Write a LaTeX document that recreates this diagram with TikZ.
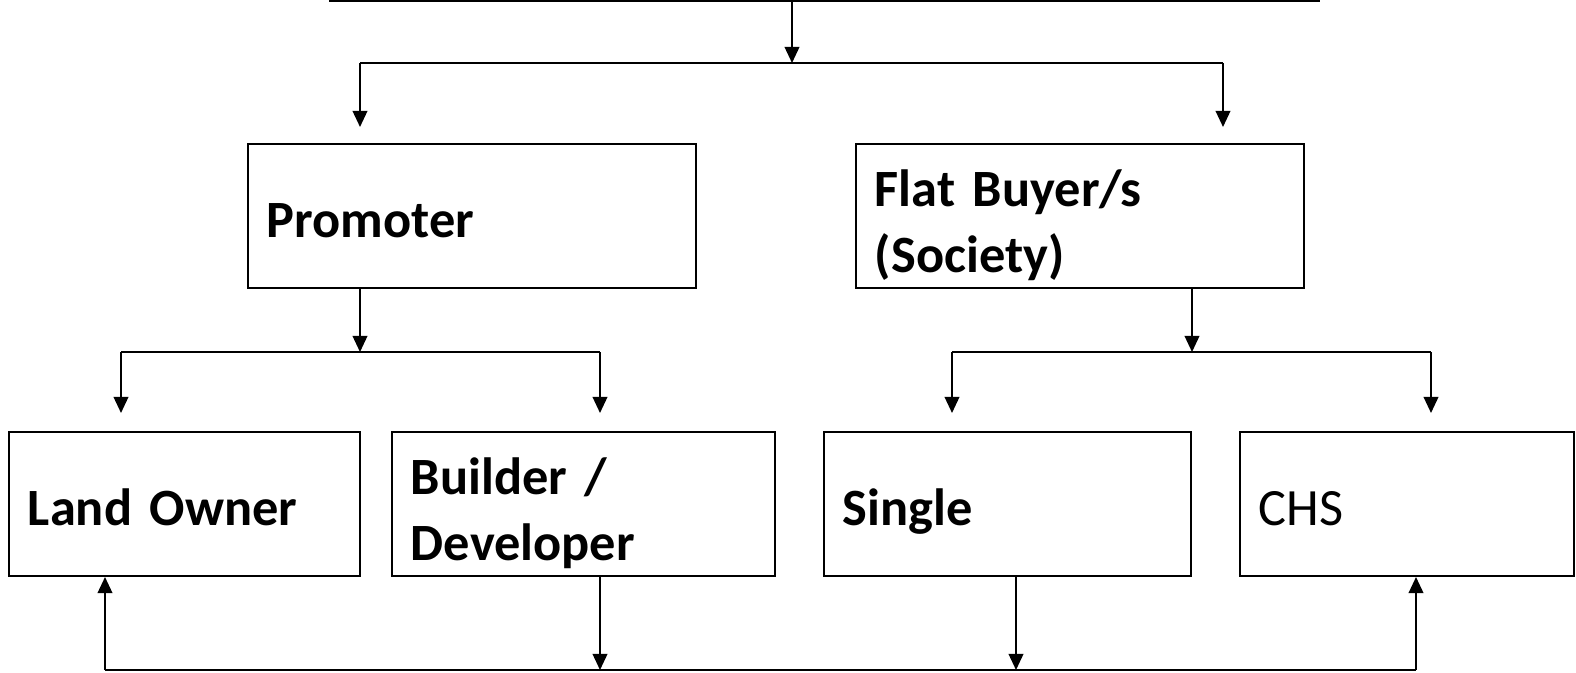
\documentclass[tikz,border=0pt]{standalone}
\usepackage{fontspec}
\setmainfont{Carlito}
\usetikzlibrary{calc}
\usetikzlibrary{arrows.meta}

\begin{document}
\begin{tikzpicture}[x=0.01cm, y=-0.01cm, >={Triangle[length=4.6pt,width=4.2pt]}]
\tikzstyle{box}=[draw=black, line width=0.55pt, rectangle, minimum height=1.44cm, inner xsep=0.19cm, align=left, font=\fontsize{14.9}{18.8}\selectfont\bfseries, execute at end node={\endgraf\vspace*{-0.18cm}}]
\tikzstyle{oneline}=[text height=12pt, text depth=0pt]
\tikzstyle{link}=[line width=0.5pt]
\useasboundingbox (0,0) rectangle (1576,673);

\node[box, oneline, text width=4.10cm] (prom) at (472,216) {Promoter};
\node[box, text width=4.10cm] (flat) at (1080,216) {Flat Buyer/s\\(Society)};
\node[box, oneline, text width=3.13cm] (land) at (184.5,504) {Land Owner};
\node[box, text width=3.45cm] (build) at (583.5,504) {Builder /\\Developer};
\node[box, oneline, text width=3.29cm] (single) at (1007.5,504) {Single};
\node[box, oneline, text width=2.96cm, font=\fontsize{14.9}{18.8}\selectfont] (chs) at (1407,504) {CHS};

% top split
\coordinate (topL) at (329,1);
\coordinate (topR) at (1320,1);
\coordinate (t) at (792,1);
\coordinate (s0) at (792,63);
\coordinate (s0l) at (360,63);
\coordinate (s0r) at (1223,63);
\draw[link] (topL) -- (topR);
\draw[link,->] (t) -- (s0);
\draw[link] (s0l) -- (s0r);
\draw[link,->,shorten >=0.16cm] (s0l) -- (s0l |- prom.north);
\draw[link,->,shorten >=0.16cm] (s0r) -- (s0r |- flat.north);

% promoter split
\coordinate (s1) at (360,352);
\coordinate (s1l) at (121,352);
\coordinate (s1r) at (600,352);
\draw[link,->] (s1 |- prom.south) -- (s1);
\draw[link] (s1l) -- (s1r);
\draw[link,->,shorten >=0.18cm] (s1l) -- (s1l |- land.north);
\draw[link,->,shorten >=0.18cm] (s1r) -- (s1r |- build.north);

% flat buyer split
\coordinate (s2) at (1192,352);
\coordinate (s2l) at (952,352);
\coordinate (s2r) at (1431,352);
\draw[link,->] (s2 |- flat.south) -- (s2);
\draw[link] (s2l) -- (s2r);
\draw[link,->,shorten >=0.18cm] (s2l) -- (s2l |- single.north);
\draw[link,->,shorten >=0.18cm] (s2r) -- (s2r |- chs.north);

% bottom loop
\coordinate (bl) at (105,670);
\coordinate (br) at (1416,670);
\coordinate (b2) at (1016,670);
\draw[link] (bl) -- (br);
\draw[link,->] (bl) -- (bl |- land.south);
\draw[link,->] (s1r |- build.south) -- (s1r |- bl);
\draw[link,->] (b2 |- single.south) -- (b2);
\draw[link,->] (br) -- (br |- chs.south);
\end{tikzpicture}
\end{document}
